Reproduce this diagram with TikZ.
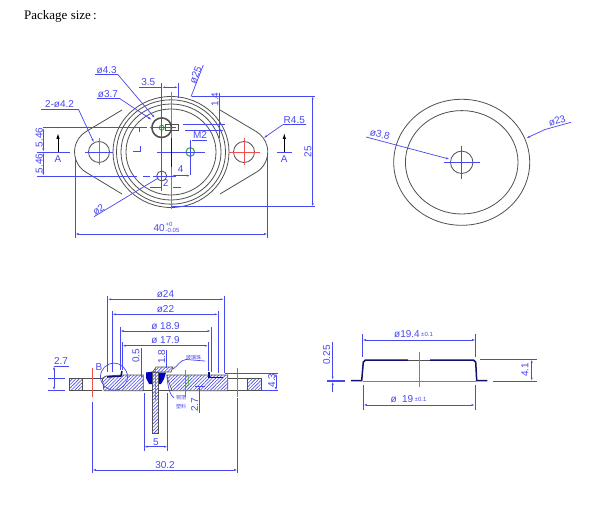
\documentclass[tikz,border=0pt]{standalone}
\usepackage{fontspec}
\setmainfont{Liberation Sans}
\newfontfamily\serifttl{Liberation Serif}
\newfontfamily\cjkfont{Noto Sans CJK SC}
\usetikzlibrary{arrows.meta,patterns.meta}
\definecolor{dimblue}{HTML}{4848F0}
\definecolor{darkblue}{HTML}{101070}
\definecolor{redline}{HTML}{F05050}
\definecolor{bodygray}{HTML}{505050}
\definecolor{greenline}{HTML}{30B030}
\tikzset{
  dimln/.style={draw=dimblue,line width=.7pt},
  dimarr/.style={dimln,{Latex[length=3.5pt,width=2pt]}-{Latex[length=3.5pt,width=2pt]}},
  leader/.style={dimln,-{Latex[length=4pt,width=2pt]}},
  redln/.style={draw=redline,line width=.9pt},
  body/.style={draw=bodygray,line width=.8pt},
  thickbody/.style={draw=darkblue,line width=1.5pt},
  dimtext/.style={text=dimblue,font=\fontsize{10}{10}\selectfont,inner sep=0pt},
  smalltext/.style={text=dimblue,font=\fontsize{6}{6}\selectfont,inner sep=0pt},
  cjktext/.style={text=dimblue,font=\cjkfont\fontsize{5}{5}\selectfont,inner sep=0pt},
  hatched/.style={pattern={Lines[angle=45,distance=2.4pt,line width=.6pt]},pattern color=dimblue,draw=bodygray,line width=.7pt},
}
\begin{document}
\begin{tikzpicture}[x=1pt,y=-1pt]
\useasboundingbox (0,0) rectangle (604,526);
\fill[white] (0,0) rectangle (604,526);
\node[inner sep=0pt,anchor=west,font=\serifttl\fontsize{13}{13}\selectfont] (title) at (24,16.5) {Package size\,:};

% ---------- top-left view ----------
\draw[body] (122,110) -- (86,131.6) arc[start angle=239,end angle=121,radius=23.7] -- (122,194);
\draw[body] (220,110) -- (256.3,131.6) arc[start angle=-59,end angle=59,radius=23.7] -- (220,194);
\fill[white] (171,152) ellipse[x radius=57.5,y radius=55];
\foreach \rx/\ry in {58/55.5,54.5/52.2,50/48,45/43}{
  \draw[body] (171,152) ellipse[x radius=\rx,y radius=\ry];
}
% holes
\draw[body] (99,152) circle[radius=10.5];
\draw[body] (244,152) circle[radius=10.5];
\draw[redln] (85,152) -- (113,152) (99,138) -- (99,165);
\draw[redln] (229,152) -- (260,152) (244,138) -- (244,165);
% centre lines
\draw[redln] (171,92) -- (171,209);
\draw[redln,draw=redline!60] (161.7,150) -- (161.7,173);
% ø4.3 pin
\draw[bodygray,line width=1.6pt] (161.7,127.7) circle[radius=9.8];
\draw[body] (165,124.7) rectangle (178.3,130.3);
\draw[greenline,line width=.9pt] (161.7,127.7) circle[radius=2.5];
\draw[body] (161.7,176) circle[radius=5];
% M2
\draw[greenline,line width=1.1pt] (190.3,152) circle[radius=4.3];
% dimension lines of top view
\draw[dimln] (43.3,127.7) -- (146.7,127.7) (150,127.7) -- (176,127.7);
\draw[dimln] (36.7,176) -- (136.7,176) (143,176) -- (150,176) (153,176) -- (176,176);
\draw[dimarr] (43.3,127.7) -- (43.3,152);
\draw[dimarr] (43.3,152) -- (43.3,176);
\draw[dimln] (36.7,152) -- (70,152);
\draw[dimln] (85,152) -- (113,152);
\node[dimtext,rotate=90] (d546a) at (39.3,137.5) {5.46};
\node[dimtext,rotate=90] (d546b) at (39.3,163.5) {5.46};
\draw[dimln] (95,74.7) -- (118,74.7);
\draw[leader] (118,74.7) -- (155,118.3);
\node[dimtext] (d43) at (106.7,70) {ø4.3};
\draw[dimln] (96.7,98.7) -- (120,98.7);
\draw[leader] (120,98.7) -- (152,120);
\node[dimtext] (d37) at (108,93.7) {ø3.7};
\draw[dimln] (40.7,109) -- (78.3,109);
\draw[leader] (78.3,109) -- (94,142.7);
\node[dimtext] (d42) at (59.5,104.5) {2-ø4.2};
\draw[dimln] (139,87.3) -- (161.7,87.3);
\draw[dimarr] (161.7,87.3) -- (178.3,87.3);
\draw[dimln] (161.7,83) -- (161.7,191) (178.3,83) -- (178.3,98);
\node[dimtext] (d35) at (148.3,82.5) {3.5};
\draw[dimln] (156.7,152) -- (205,152);
\draw[darkblue,line width=1pt] (171,138) -- (171,167);
\draw[dimln] (190.3,140) -- (190.3,175);
\draw[dimln] (191.7,140) -- (206.7,140);
\node[dimtext] (m2) at (200,134.7) {M2};
\draw[dimarr] (171.7,175.7) -- (190.3,175.7);
\node[dimtext] (d4) at (180.7,168.7) {4};
\draw[dimln] (150,187.7) -- (161.7,187.7) (173,187.7) -- (181,187.7);
\node[dimtext] (d2b) at (165.7,183.5) {2};
\draw[dimln] (139.5,128) -- (139.5,132) (133,151.5) -- (140.5,151.5) -- (140.5,146);
\draw[dimln] (94,216.7) -- (158.3,178);
\node[dimtext,rotate=31] (d2) at (98.5,210) {ø2};
\draw[dimln] (191.7,96) -- (315,96);
\draw[dimln] (182.7,124) -- (225,124) (185,130) -- (223,130);
\draw[dimln] (219.3,93) -- (219.3,138);
\node[dimtext,rotate=90] (d14) at (215,99.5) {1.4};
\draw[dimln] (203.3,65) -- (191,96.7);
\node[dimtext,rotate=68] (d25a) at (195.5,75) {ø25};
\draw[dimln] (282.7,124.7) -- (306,124.7);
\draw[leader] (282.7,124.7) -- (263.3,138.3);
\node[dimtext] (r45) at (294.3,119.8) {R4.5};
\draw[dimln] (171,206.7) -- (315,206.7);
\draw[dimarr] (312.7,96) -- (312.7,206.7);
\node[dimtext,rotate=90] (d25) at (308,151.7) {25};
\draw[dimln] (75,156.7) -- (75,238) (267.7,155) -- (267.7,238);
\draw[dimarr] (75,234) -- (267.7,234);
\node[dimtext,anchor=east] (d40) at (165,227.7) {40};
\node[smalltext,anchor=west] (d40p) at (165.5,224.5) {+0};
\node[smalltext,anchor=west] (d40m) at (165.5,230.5) {-0.05};
% section arrows
\draw[line width=1pt,-{Latex[length=6pt,width=3.5pt]}] (58,152) -- (58,133);
\node[dimtext] (a1) at (58,159.3) {A};
\draw[dimln] (276.7,152) -- (291.7,152);
\draw[line width=1pt,-{Latex[length=6pt,width=3.5pt]}] (284.3,152) -- (284.3,133);
\node[dimtext] (a2) at (284.3,158.7) {A};

% ---------- top-right view ----------
\draw[body] (461.7,162.3) ellipse[x radius=68,y radius=63];
\draw[body] (461.7,162.3) ellipse[x radius=56.3,y radius=51.7];
\draw[body] (461.7,162.3) circle[radius=11.2];
\draw[dimln] (444,162.3) -- (480,162.3) (461.7,146) -- (461.7,179);
\draw[leader] (366,137) -- (450,159.3);
\node[dimtext,rotate=-14] (d38) at (380,134.5) {ø3.8};
\draw[dimln] (571,122.3) -- (545,129.5);
\draw[leader] (545,129.5) -- (526,138.3);
\node[dimtext,rotate=17] (d23) at (557,121) {ø23};

% ---------- bottom-left section ----------
\draw[hatched] (69.3,378.3) rectangle (82.7,390.7);
\draw[body] (82.7,378.3) -- (102.3,378.3) (82.7,390.7) -- (102.3,390.7);
\draw[hatched] (102.3,378.3) -- (106,376) -- (122,375) -- (143.3,375) -- (143.3,390.7) -- (104,390.7) -- cycle;
\draw[hatched] (166.7,375) -- (227.7,375) -- (227.7,390.7) -- (172,390.7) -- (168,380) -- cycle;
\draw[hatched] (247.3,378.3) rectangle (261.7,390.7);
\draw[body] (227.7,378.3) -- (247.3,378.3) (227.7,390.7) -- (247.3,390.7);
\draw[body] (143.3,390.7) -- (152.7,390.7) (158.3,390.7) -- (172,390.7);
% glass bead
\fill[blue!75!black] (146,372.5) -- (153,371.5) -- (153,384) -- (149,384) -- (146,378) -- cycle;
\fill[blue!75!black] (158,372.5) -- (166,372.5) -- (164,379) -- (161,384) -- (158,384) -- cycle;
% stud
\draw[hatched] (152.7,372) rectangle (158.3,433.3);
\draw[hatched] (152.7,372) -- (156,367) -- (173,367) -- (171,372) -- (158.3,372);
\draw[redln] (155,367) -- (155,400);
\draw[redln] (92.3,368.3) -- (92.3,396.7);
\draw[redln] (185,370) -- (185,396.7);
\draw[redln] (237.7,368.3) -- (237.7,396.7);
\draw[greenline,line width=.8pt] (188.3,375) -- (188.3,385) -- (185,388);
% Seals
\draw[thickbody] (107,377) -- (121,376) -- (122,371);
\draw[thickbody] (209,372) -- (209,377.5) -- (223,377.5);
% B circle
\draw[dimln] (114,376.7) circle[radius=13.5];
\node[dimtext] (b) at (99,366.7) {B};
% dims
\draw[dimarr] (107.7,299.3) -- (224,299.3);
\draw[dimarr] (112.3,314.3) -- (218.3,314.3);
\draw[dimarr] (120,331) -- (211,331);
\draw[dimarr] (122.3,345.7) -- (208.3,345.7);
\draw[dimln] (107.7,296) -- (107.7,372) (224,296) -- (224,373);
\draw[dimln] (112.3,311) -- (112.3,372) (218.3,311) -- (218.3,373);
\draw[dimln] (120,327) -- (120,370) (211,327) -- (211,372);
\draw[dimln] (122.3,342) -- (122.3,370) (208.3,342) -- (208.3,371);
\node[dimtext] (d24) at (165.5,294.5) {ø24};
\node[dimtext] (d22) at (165.5,309.5) {ø22};
\node[dimtext] (d189) at (165.5,326) {ø 18.9};
\node[dimtext] (d179) at (165.5,340.5) {ø 17.9};
\draw[dimln] (48.3,378.3) -- (65,378.3) (48.3,390.5) -- (65,390.5);
\draw[dimln] (54,366) -- (69.3,366);
\draw[dimarr] (54,366) -- (54,390.5);
\node[dimtext] (d27a) at (61,361.5) {2.7};
\draw[dimln] (141,348) -- (141,376.7);
\node[dimtext,rotate=90] (d05) at (136,356) {0.5};
\draw[dimln] (166.7,350) -- (166.7,368);
\node[dimtext,rotate=90] (d18) at (161.7,357) {1.8};
\draw[dimln] (173,369) .. controls (178,366) and (180,360) .. (186,359.5) -- (205,361);
\node[cjktext] (glass) at (193.5,358) {玻璃珠};
\draw[dimln] (167,377) .. controls (168,388) and (170,395) .. (174,398);
\node[cjktext] (lab1) at (181,398) {铜箔};
\node[cjktext] (lab2) at (181,407) {塑料};
\draw[dimln] (195,386.7) -- (205,386.7) (199,386.7) -- (199,413);
\node[dimtext,rotate=90] (d27b) at (194.7,405) {2.7};
\draw[dimln] (225,373) -- (278,373) (262,390.7) -- (278,390.7);
\draw[dimarr] (276,373) -- (276,390.7);
\node[dimtext,rotate=90] (d43b) at (271.7,380.5) {4.3};
\draw[dimln] (144,393) -- (144,450.7) (167.7,393) -- (167.7,450.7);
\draw[dimarr] (144,446.7) -- (167.7,446.7);
\node[dimtext] (d5) at (156,442) {5};
\draw[dimln] (92.3,401.7) -- (92.3,473) (237.7,398) -- (237.7,473);
\draw[dimarr] (92.3,470) -- (237.7,470);
\node[dimtext] (d302) at (165,464.7) {30.2};

% ---------- bottom-right section ----------
\draw[thickbody] (351,380.7) -- (361.7,380.7) -- (363.3,362) to[out=-80,in=180] (365.5,360) -- (408,360);
\draw[thickbody] (430,360) -- (473.5,360) to[out=0,in=-100] (475.7,362) -- (476.7,380.7) -- (487.3,380.7);
\draw[body,line width=1pt] (408,360) -- (430,360);
\draw[body,draw=gray] (363,381.3) -- (476,381.3);
\draw[redln] (419,351.7) -- (419,387.3);
\draw[dimln] (362.3,334) -- (362.3,356.7) (475.7,334) -- (475.7,356.7);
\draw[dimarr] (362.3,340) -- (475.7,340);
\node[dimtext,anchor=east] (d194) at (420,334) {ø19.4};
\node[smalltext,anchor=west] (d194t) at (421,334.5) {±0.1};
\draw[dimln] (363.3,385) -- (363.3,410) (475,385) -- (475,410);
\draw[dimarr] (363.3,405) -- (475,405);
\node[dimtext,anchor=east] (d19) at (413.5,399.3) {ø\ \ 19};
\node[smalltext,anchor=west] (d19t) at (414.5,399.7) {±0.1};
\draw[dimln] (480,359.3) -- (536.7,359.3) (493,381) -- (536.7,381);
\draw[dimarr] (531.7,359.3) -- (531.7,381);
\node[dimtext,rotate=90] (d41) at (525,370) {4.1};
\draw[dimln] (326.7,380) -- (345,380) (326.7,381.4) -- (345,381.4);
\draw[dimln,-{Latex[length=3.5pt,width=2pt]}] (332.7,341.7) -- (332.7,380);
\draw[dimln,-{Latex[length=3.5pt,width=2pt]}] (332.7,391.7) -- (332.7,381.4);
\node[dimtext,rotate=90] (d025) at (326.7,355) {0.25};
\end{tikzpicture}
\end{document}
